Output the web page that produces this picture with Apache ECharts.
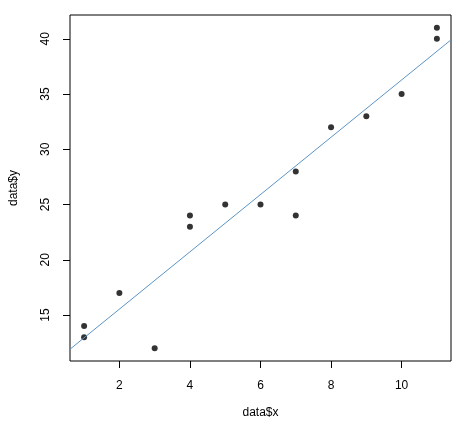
<!DOCTYPE html>
<html><head><meta charset="utf-8">
<script src="https://cdn.jsdelivr.net/npm/echarts@6/dist/echarts.min.js"></script>
<style>html,body{margin:0;background:#fff}#c{width:470px;height:424px}</style>
</head><body><div id="c"></div>
<script>
const xs = [1,1,2,3,4,4,5,6,7,7,8,9,10,11,11];
const ys = [14,13,17,12,24,23,25,25,28,24,32,33,35,41,40];
const fit = [10.35, 2.593]; // intercept, slope
const xTicks = [2,4,6,8,10];
const yTicks = [15,20,25,30,35,40];
const xMin = 0.6, xMax = 11.4, yMin = 10.84, yMax = 42.16;
const pts = xs.map((x,i)=>[x,ys[i]]);
const line = [[xMin, fit[0]+fit[1]*xMin],[xMax, fit[0]+fit[1]*xMax]];
const font = 'Liberation Sans, Arial, sans-serif';
const chart = echarts.init(document.getElementById('c'));
chart.setOption({
  animation:false,
  grid:{left:59,right:19,top:15,bottom:62,show:true,borderColor:'#000',borderWidth:1},
  xAxis:{type:'value',min:xMin,max:xMax,name:'data$x',nameLocation:'middle',nameGap:46,
    nameTextStyle:{color:'#000',fontSize:12,fontFamily:font},
    splitLine:{show:false},axisLine:{show:false},offset:0,
    axisTick:{show:true,inside:false,length:7,customValues:xTicks,lineStyle:{color:'#000'}},
    axisLabel:{customValues:xTicks,color:'#000',fontSize:12,fontFamily:font,margin:19}},
  yAxis:{type:'value',min:yMin,max:yMax,name:'data$y',nameLocation:'middle',nameGap:50,
    nameTextStyle:{color:'#000',fontSize:12,fontFamily:font},
    splitLine:{show:false},axisLine:{show:false},
    axisTick:{show:true,length:7,customValues:yTicks,lineStyle:{color:'#000'}},
    axisLabel:{customValues:yTicks,color:'#000',fontSize:12,fontFamily:font,rotate:90,margin:18}},
  series:[
    {type:'line',data:line,symbol:'none',lineStyle:{color:'#5b93c4',width:1},silent:true},
    {type:'scatter',data:pts,symbolSize:6,itemStyle:{color:'#000'}}
  ]
});
</script></body></html>
